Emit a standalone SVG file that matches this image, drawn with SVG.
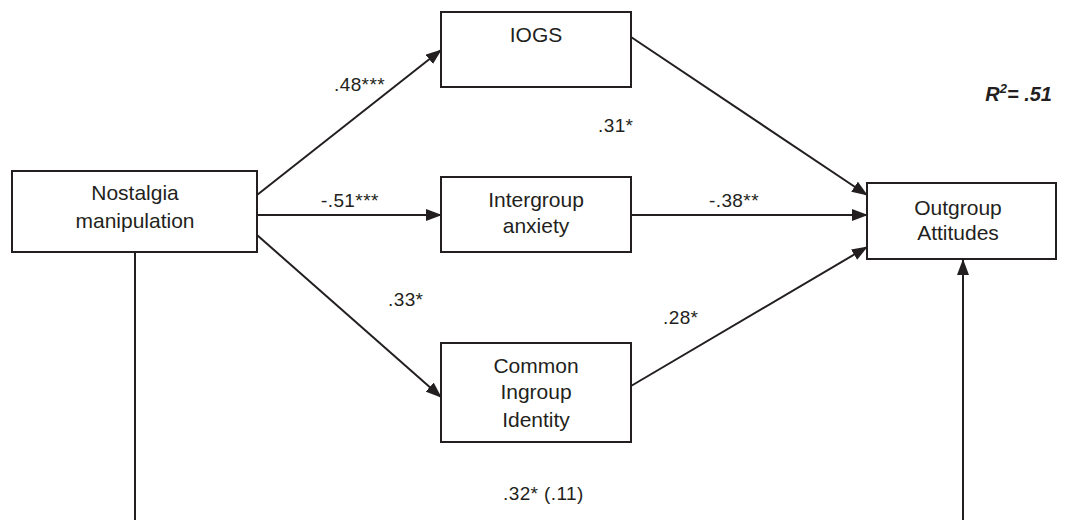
<svg xmlns="http://www.w3.org/2000/svg" width="1068" height="520" viewBox="0 0 1068 520">
<style>
.box{fill:#fff;stroke:#231f20;stroke-width:2}
.t{font-family:"Liberation Sans",Arial,sans-serif;font-size:21px;fill:#231f20;text-anchor:middle}
.l{font-family:"Liberation Sans",Arial,sans-serif;font-size:19px;letter-spacing:0.4px;fill:#231f20}
.c{fill:none;stroke:#231f20;stroke-width:2}
</style>
<defs>
<marker id="ah" markerUnits="userSpaceOnUse" markerWidth="16" markerHeight="12" refX="15" refY="6" orient="auto">
<path d="M0,0 L16,6 L0,12 z" fill="#231f20"/>
</marker>
</defs>
<rect width="1068" height="520" fill="#fff"/>
<g id="connectors">
<line class="c" x1="257" y1="195" x2="441" y2="50" marker-end="url(#ah)"/>
<line class="c" x1="257" y1="215" x2="441" y2="215" marker-end="url(#ah)"/>
<line class="c" x1="257" y1="235" x2="441" y2="397" marker-end="url(#ah)"/>
<line class="c" x1="631" y1="37" x2="867" y2="195" marker-end="url(#ah)"/>
<line class="c" x1="631" y1="215" x2="867" y2="215" marker-end="url(#ah)"/>
<line class="c" x1="631" y1="386" x2="867" y2="247" marker-end="url(#ah)"/>
<line class="c" x1="135" y1="252" x2="135" y2="520"/>
<line class="c" x1="963" y1="520" x2="963" y2="260" marker-end="url(#ah)"/>
<text class="l" x="334" y="91">.48***</text>
<text class="l" x="321" y="207">-.51***</text>
<text class="l" x="388" y="306">.33*</text>
<text class="l" x="598" y="132">.31*</text>
<text class="l" x="709" y="207">-.38**</text>
<text class="l" x="663" y="324">.28*</text>
<text class="l" x="503" y="500">.32* (.11)</text>
</g>
<g id="nostalgia">
<rect class="box" x="12" y="171" width="245" height="81"/>
<text class="t" x="135" y="200">Nostalgia</text>
<text class="t" x="135" y="228">manipulation</text>
</g>
<g id="iogs">
<rect class="box" x="441" y="12" width="190" height="75"/>
<text class="t" x="536" y="42">IOGS</text>
</g>
<g id="anxiety">
<rect class="box" x="441" y="177" width="190" height="75"/>
<text class="t" x="536" y="207">Intergroup</text>
<text class="t" x="536" y="233">anxiety</text>
</g>
<g id="common">
<rect class="box" x="441" y="343" width="190" height="99"/>
<text class="t" x="536" y="373">Common</text>
<text class="t" x="536" y="399">Ingroup</text>
<text class="t" x="536" y="427">Identity</text>
</g>
<g id="outgroup">
<rect class="box" x="867" y="183" width="189" height="76"/>
<text class="t" x="958" y="215">Outgroup</text>
<text class="t" x="958" y="240">Attitudes</text>
</g>
<g id="r2">
<text x="1052" y="101" font-family="Liberation Sans,Arial,sans-serif" font-size="20" font-weight="bold" font-style="italic" fill="#231f20" text-anchor="end">R<tspan font-size="13" dy="-8">2</tspan><tspan dy="8">= .51</tspan></text>
</g>
</svg>
